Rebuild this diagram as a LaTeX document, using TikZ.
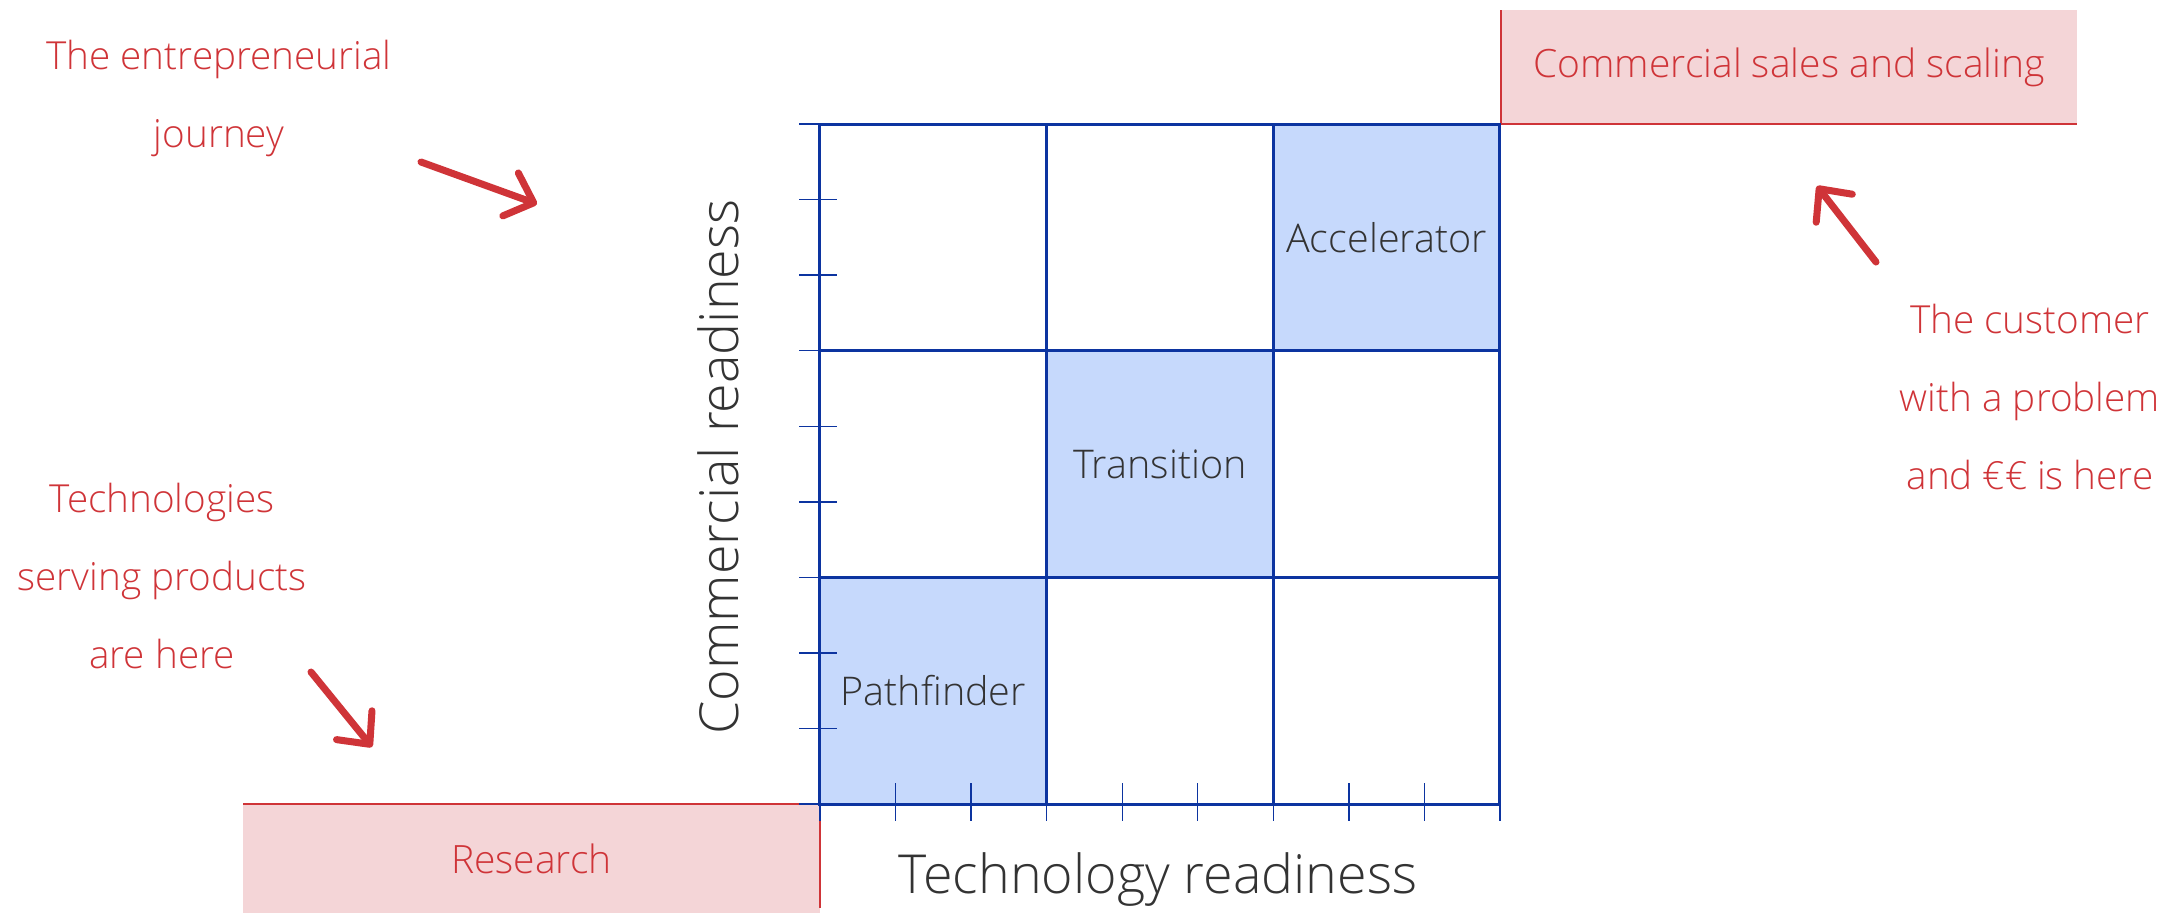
\documentclass[tikz,border=0pt]{standalone}
\usepackage{fontspec}
\setmainfont{Open Sans}[UprightFont=* Light]
\usetikzlibrary{arrows.meta, positioning}
\definecolor{GridBlue}{RGB}{12, 52, 160}
\definecolor{CellBlue}{RGB}{198, 217, 252}
\definecolor{NoteRed}{RGB}{207, 52, 56}
\definecolor{BandPink}{RGB}{244, 213, 215}
\definecolor{LabelGrey}{RGB}{51, 51, 51}

\begin{document}
\begin{tikzpicture}[
        x=0.1mm, y=-0.1mm,
        cell/.style={rectangle, draw=GridBlue, line width=0.85pt, minimum size=22.667mm, inner sep=0pt, outer sep=0pt, text=LabelGrey, font=\fontsize{11.25}{13}\selectfont},
        hot/.style={cell, fill=CellBlue},
        tickmark/.style={draw=GridBlue, line width=0.4pt},
        band/.style={rectangle, fill=BandPink, inner sep=0pt, outer sep=0pt, text=NoteRed, font=\fontsize{11.1}{13}\selectfont},
        rim/.style={draw=NoteRed, line width=0.6pt},
        note/.style={align=center, text=NoteRed, font=\fontsize{11}{22.2}\selectfont},
        axis/.style={text=LabelGrey, font=\fontsize{15.3}{17}\selectfont},
        pointer/.style={draw=NoteRed, line width=2pt, line cap=round, -{Straight Barb[length=7pt, width=13pt, round]}}
    ]
        \useasboundingbox (0,0) rectangle (2177,913);

        % bands
        \node [band, minimum width=57.7mm, minimum height=10.9mm, anchor=north east] (research) at (820,804) {Research};
        \node [band, minimum width=57.6mm, minimum height=11.4mm, anchor=south west] (sales) at (1501,124) {Commercial sales and scaling};
        \path [rim] (research.north west) -- (research.north east) -- ([yshift=0.5mm]research.south east);
        \path [rim] (sales.north west) -- (sales.south west) -- (sales.south east);

        % grid
        \foreach \c in {0,1,2}
            \foreach \r in {0,1,2}
                \node [cell] (c\c\r) at (933.3+\c*226.67,690.7-\r*226.67) {};
        \node [hot] (pathfinder) at (c00) {Pathfinder};
        \node [hot] (transition) at (c11) {Transition};
        \node [hot] (accelerator) at (c22) {Accelerator};

        \foreach \k in {1,2,4,5,7,8} {
            \path [tickmark] (799,124+\k*75.556) -- (837,124+\k*75.556);
            \path [tickmark] (820+\k*75.556,783) -- (820+\k*75.556,821);
        }
        \foreach \k in {0,3,6,9} {
            \path [tickmark] (799,124+\k*75.556) -- (820,124+\k*75.556);
            \path [tickmark] (820+\k*75.556,804) -- (820+\k*75.556,821);
        }

        \node [axis, rotate=90] (commercial) at (718,467) {Commercial readiness};
        \node [axis] (technology) at (1158,880) {Technology readiness};

        % notes
        \node [note] (journey) at (219,98) {The entrepreneurial\\journey};
        \node [note] (techs) at (162,576) {Technologies\\serving products\\are here};
        \node [note] (customer) at (2030,397) {The customer\\with a problem\\and €€ is here};

        \coordinate (journey-from) at (421,162);
        \coordinate (journey-to) at (537,204);
        \coordinate (techs-from) at (311,672);
        \coordinate (techs-to) at (372,747);
        \coordinate (customer-from) at (1876,262);
        \coordinate (customer-to) at (1817,186);
        \path [pointer] (journey-from) -- (journey-to);
        \path [pointer] (techs-from) -- (techs-to);
        \path [pointer] (customer-from) -- (customer-to);
    \end{tikzpicture}
\end{document}
